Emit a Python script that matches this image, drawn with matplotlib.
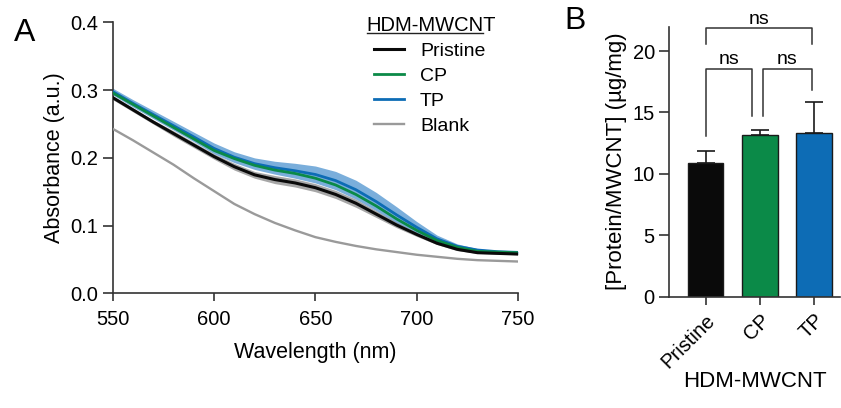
import matplotlib
matplotlib.use("Agg")
import matplotlib.pyplot as plt
import numpy as np

plt.rcParams['font.family'] = ['Liberation Sans', 'DejaVu Sans']

# ---- Panel A data ----
wavelength = [550, 560, 570, 580, 590, 600, 610, 620, 630, 640, 650,
              660, 670, 680, 690, 700, 710, 720, 730, 740, 750]
pristine = [0.289, 0.271, 0.253, 0.236, 0.219, 0.202, 0.187, 0.175, 0.168, 0.163, 0.156,
            0.146, 0.133, 0.117, 0.101, 0.087, 0.074, 0.065, 0.060, 0.059, 0.058]
pristine_sd = [0.003, 0.003, 0.003, 0.004, 0.004, 0.004, 0.005, 0.005, 0.006, 0.006, 0.006,
               0.006, 0.006, 0.005, 0.004, 0.003, 0.002, 0.002, 0.001, 0.001, 0.001]
cp = [0.296, 0.279, 0.262, 0.245, 0.228, 0.211, 0.199, 0.189, 0.182, 0.177, 0.170,
      0.160, 0.146, 0.129, 0.110, 0.093, 0.078, 0.068, 0.062, 0.061, 0.060]
tp = [0.298, 0.2805, 0.264, 0.2475, 0.231, 0.214, 0.201, 0.1915, 0.1855, 0.181, 0.1755,
      0.1665, 0.153, 0.1355, 0.116, 0.0975, 0.0805, 0.0695, 0.064, 0.0615, 0.0605]
tp_sd = [0.005, 0.0055, 0.006, 0.0065, 0.007, 0.008, 0.008, 0.0085, 0.0095, 0.011, 0.0125,
         0.0135, 0.014, 0.0135, 0.012, 0.0085, 0.0055, 0.0035, 0.002, 0.0015, 0.0015]
blank = [0.243, 0.226, 0.208, 0.190, 0.170, 0.151, 0.132, 0.117, 0.104, 0.093, 0.083,
         0.076, 0.070, 0.065, 0.061, 0.057, 0.054, 0.051, 0.049, 0.048, 0.047]

# ---- Panel B data ----
groups = ["Pristine", "CP", "TP"]
protein = [10.85, 13.15, 13.3]
protein_sd = [1.0, 0.4, 2.55]

c_black = "#0a0a0a"
c_green = "#0b8a48"
c_blue = "#0d6cb5"
c_band_blue = "#7aaedb"
c_gray = "#9a9a9a"

fig = plt.figure(figsize=(8.41, 4.08), dpi=100)

# ---------------- Panel A ----------------
axA = fig.add_axes([0.134, 0.281, 0.482, 0.664])
wl = np.array(wavelength)
tpa = np.array(tp); tps = np.array(tp_sd)
pra = np.array(pristine); prs = np.array(pristine_sd)
axA.fill_between(wl, tpa - tps, tpa + tps, color=c_band_blue, lw=0, zorder=1)
axA.fill_between(wl, pra - prs, pra + prs, color="#8a8a8a", alpha=0.75, lw=0, zorder=2)
axA.plot(wl, blank, color=c_gray, lw=1.7, zorder=3, label="Blank")
axA.plot(wl, tp, color=c_blue, lw=2.0, zorder=4, label="TP")
axA.plot(wl, cp, color=c_green, lw=2.0, zorder=5, label="CP")
axA.plot(wl, pristine, color=c_black, lw=2.2, zorder=6, label="Pristine")

axA.set_xlim(550, 750)
axA.set_ylim(0, 0.4)
axA.set_xticks([550, 600, 650, 700, 750])
axA.set_yticks([0.0, 0.1, 0.2, 0.3, 0.4])
axA.set_yticklabels(["0.0", "0.1", "0.2", "0.3", "0.4"])
for s in ["top", "right"]:
    axA.spines[s].set_visible(False)
for s in ["left", "bottom"]:
    axA.spines[s].set_linewidth(1.2)
    axA.spines[s].set_color("#333333")
axA.tick_params(axis="both", labelsize=14.5, width=1.2, color="#333333")
axA.tick_params(axis="x", length=6, pad=6)
axA.tick_params(axis="y", length=7.5, pad=3)
axA.set_xlabel("Wavelength (nm)", fontsize=15.5, labelpad=9)
axA.set_ylabel("Absorbance (a.u.)", fontsize=15.5, labelpad=4)

h, l = axA.get_legend_handles_labels()
order = [3, 2, 1, 0]
leg = axA.legend([h[i] for i in order], [l[i] for i in order],
                 loc="upper left", bbox_to_anchor=(0.645, 0.927), frameon=False,
                 fontsize=14, handlelength=1.54, handletextpad=0.82,
                 labelspacing=0.38, borderaxespad=0, borderpad=0)
axA.text(0.627, 0.99, "HDM-MWCNT", transform=axA.transAxes, fontsize=14.5,
         ha="left", va="center")
axA.plot([0.627, 0.913], [0.960, 0.960], transform=axA.transAxes, color="#222222",
         lw=1.0, clip_on=False)

fig.text(0.029, 0.918, "A", fontsize=23, ha="center", va="center")

# ---------------- Panel B ----------------
axB = fig.add_axes([0.796, 0.273, 0.203, 0.662])
x = np.arange(len(groups))
axB.bar(x, protein, width=0.65, color=[c_black, c_green, c_blue],
        edgecolor="#1a1a1a", linewidth=1.0, zorder=2)
axB.errorbar(x, protein, yerr=[np.zeros(3), protein_sd], fmt="none",
             ecolor="#1a1a1a", elinewidth=1.2, capsize=6.5, capthick=1.2, zorder=1)
axB.set_xlim(-0.667, 2.48)
axB.set_ylim(0, 22)
axB.set_yticks([0, 5, 10, 15, 20])
axB.set_xticks(x)
axB.set_xticklabels(groups, rotation=45, ha="right", rotation_mode="anchor")
for s in ["top", "right"]:
    axB.spines[s].set_visible(False)
for s in ["left", "bottom"]:
    axB.spines[s].set_linewidth(1.2)
    axB.spines[s].set_color("#333333")
axB.tick_params(axis="both", labelsize=14.5, width=1.2, color="#333333")
axB.tick_params(axis="x", length=6, pad=4)
axB.tick_params(axis="y", length=7.5, pad=3)
axB.set_ylabel("[Protein/MWCNT] (\u00b5g/mg)", fontsize=16, labelpad=4)
axB.set_xlabel("HDM-MWCNT", fontsize=16, labelpad=0)

# significance brackets
bc = "#333333"
def bracket(x1, x2, y1, y2, top, label, ty):
    axB.plot([x1, x1, x2, x2], [y1, top, top, y2], color=bc, lw=1.1, clip_on=False)
    axB.text((x1 + x2) / 2, ty, label, ha="center", va="center", fontsize=14,
             clip_on=False)

bracket(0.0, 0.863, 13.06, 14.7, 18.57, "ns", 19.3)
bracket(1.054, 1.963, 14.7, 16.8, 18.57, "ns", 19.3)
bracket(0.0, 1.963, 20.6, 20.6, 21.9, "ns", 22.6)

fig.text(0.684, 0.948, "B", fontsize=23, ha="center", va="center")

fig.savefig("out.png", dpi=100)
